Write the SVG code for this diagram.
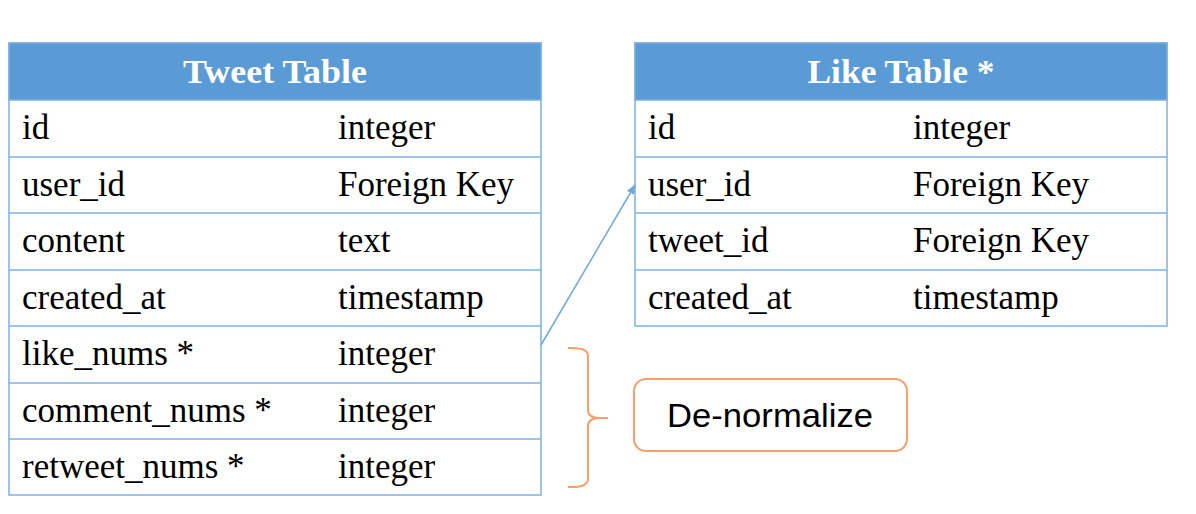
<svg xmlns="http://www.w3.org/2000/svg" width="1196" height="514" viewBox="0 0 1196 514">
<style>
.hdr{fill:#5B9BD5;}
.cell{fill:#fff;stroke:#7EB0DE;stroke-width:1.5;}
.ht{font-family:"Liberation Serif",serif;font-weight:bold;font-size:34px;fill:#fff;text-anchor:middle;}
.t{font-family:"Liberation Serif",serif;font-size:35px;fill:#000;}
.conn{stroke:#6FA8DC;stroke-width:1.5;fill:none;}
.brace{stroke:#F4A06A;stroke-width:2;fill:none;}
.note{fill:#fff;stroke:#F4A06A;stroke-width:2;}
.nt{font-family:"Liberation Sans",sans-serif;font-size:34px;fill:#000;text-anchor:middle;}
</style>
<defs>
<marker id="arr" markerWidth="10" markerHeight="10" refX="9" refY="5" orient="auto" markerUnits="userSpaceOnUse">
<path d="M0,1 L10,5 L0,9 z" fill="#6FA8DC"/>
</marker>
</defs>
<rect width="1196" height="514" fill="#fff"/>
<g id="tweet-table">
<rect class="cell" x="9" y="43" width="532" height="452"/>
<rect class="hdr" x="9" y="43" width="532" height="57" stroke="#7EB0DE" stroke-width="1.5"/>
<text class="ht" x="275" y="83" textLength="184" lengthAdjust="spacingAndGlyphs">Tweet Table</text>
<g class="cell">
<line x1="9" y1="157" x2="541" y2="157"/>
<line x1="9" y1="213" x2="541" y2="213"/>
<line x1="9" y1="270" x2="541" y2="270"/>
<line x1="9" y1="326" x2="541" y2="326"/>
<line x1="9" y1="383" x2="541" y2="383"/>
<line x1="9" y1="439" x2="541" y2="439"/>
</g>
<text class="t" x="22" y="139">id</text><text class="t" x="338" y="139">integer</text>
<text class="t" x="22" y="196">user_id</text><text class="t" x="338" y="196">Foreign Key</text>
<text class="t" x="22" y="252">content</text><text class="t" x="338" y="252">text</text>
<text class="t" x="22" y="309">created_at</text><text class="t" x="338" y="309">timestamp</text>
<text class="t" x="22" y="365">like_nums *</text><text class="t" x="338" y="365">integer</text>
<text class="t" x="22" y="422">comment_nums *</text><text class="t" x="338" y="422">integer</text>
<text class="t" x="22" y="478">retweet_nums *</text><text class="t" x="338" y="478">integer</text>
</g>
<g id="like-table">
<rect class="cell" x="635" y="43" width="532" height="283"/>
<rect class="hdr" x="635" y="43" width="532" height="57" stroke="#7EB0DE" stroke-width="1.5"/>
<text class="ht" x="901" y="83" textLength="187" lengthAdjust="spacingAndGlyphs">Like Table *</text>
<g class="cell">
<line x1="635" y1="157" x2="1167" y2="157"/>
<line x1="635" y1="213" x2="1167" y2="213"/>
<line x1="635" y1="270" x2="1167" y2="270"/>
</g>
<text class="t" x="648" y="139">id</text><text class="t" x="913" y="139">integer</text>
<text class="t" x="648" y="196">user_id</text><text class="t" x="913" y="196">Foreign Key</text>
<text class="t" x="648" y="252">tweet_id</text><text class="t" x="913" y="252">Foreign Key</text>
<text class="t" x="648" y="309">created_at</text><text class="t" x="913" y="309">timestamp</text>
</g>
<g id="connectors">
<line class="conn" x1="541" y1="345" x2="635" y2="185" marker-end="url(#arr)"/>
<path class="brace" d="M568,348 Q588,347 588,356 L588,410 Q588,418 600,418 L608,418 M600,418 Q588,418 588,426 L588,479 Q588,488 568,487"/>
</g>
<g id="denormalize">
<rect class="note" x="634" y="379" width="273" height="72" rx="12"/>
<text class="nt" x="770" y="427" textLength="206" lengthAdjust="spacingAndGlyphs">De-normalize</text>
</g>
</svg>
